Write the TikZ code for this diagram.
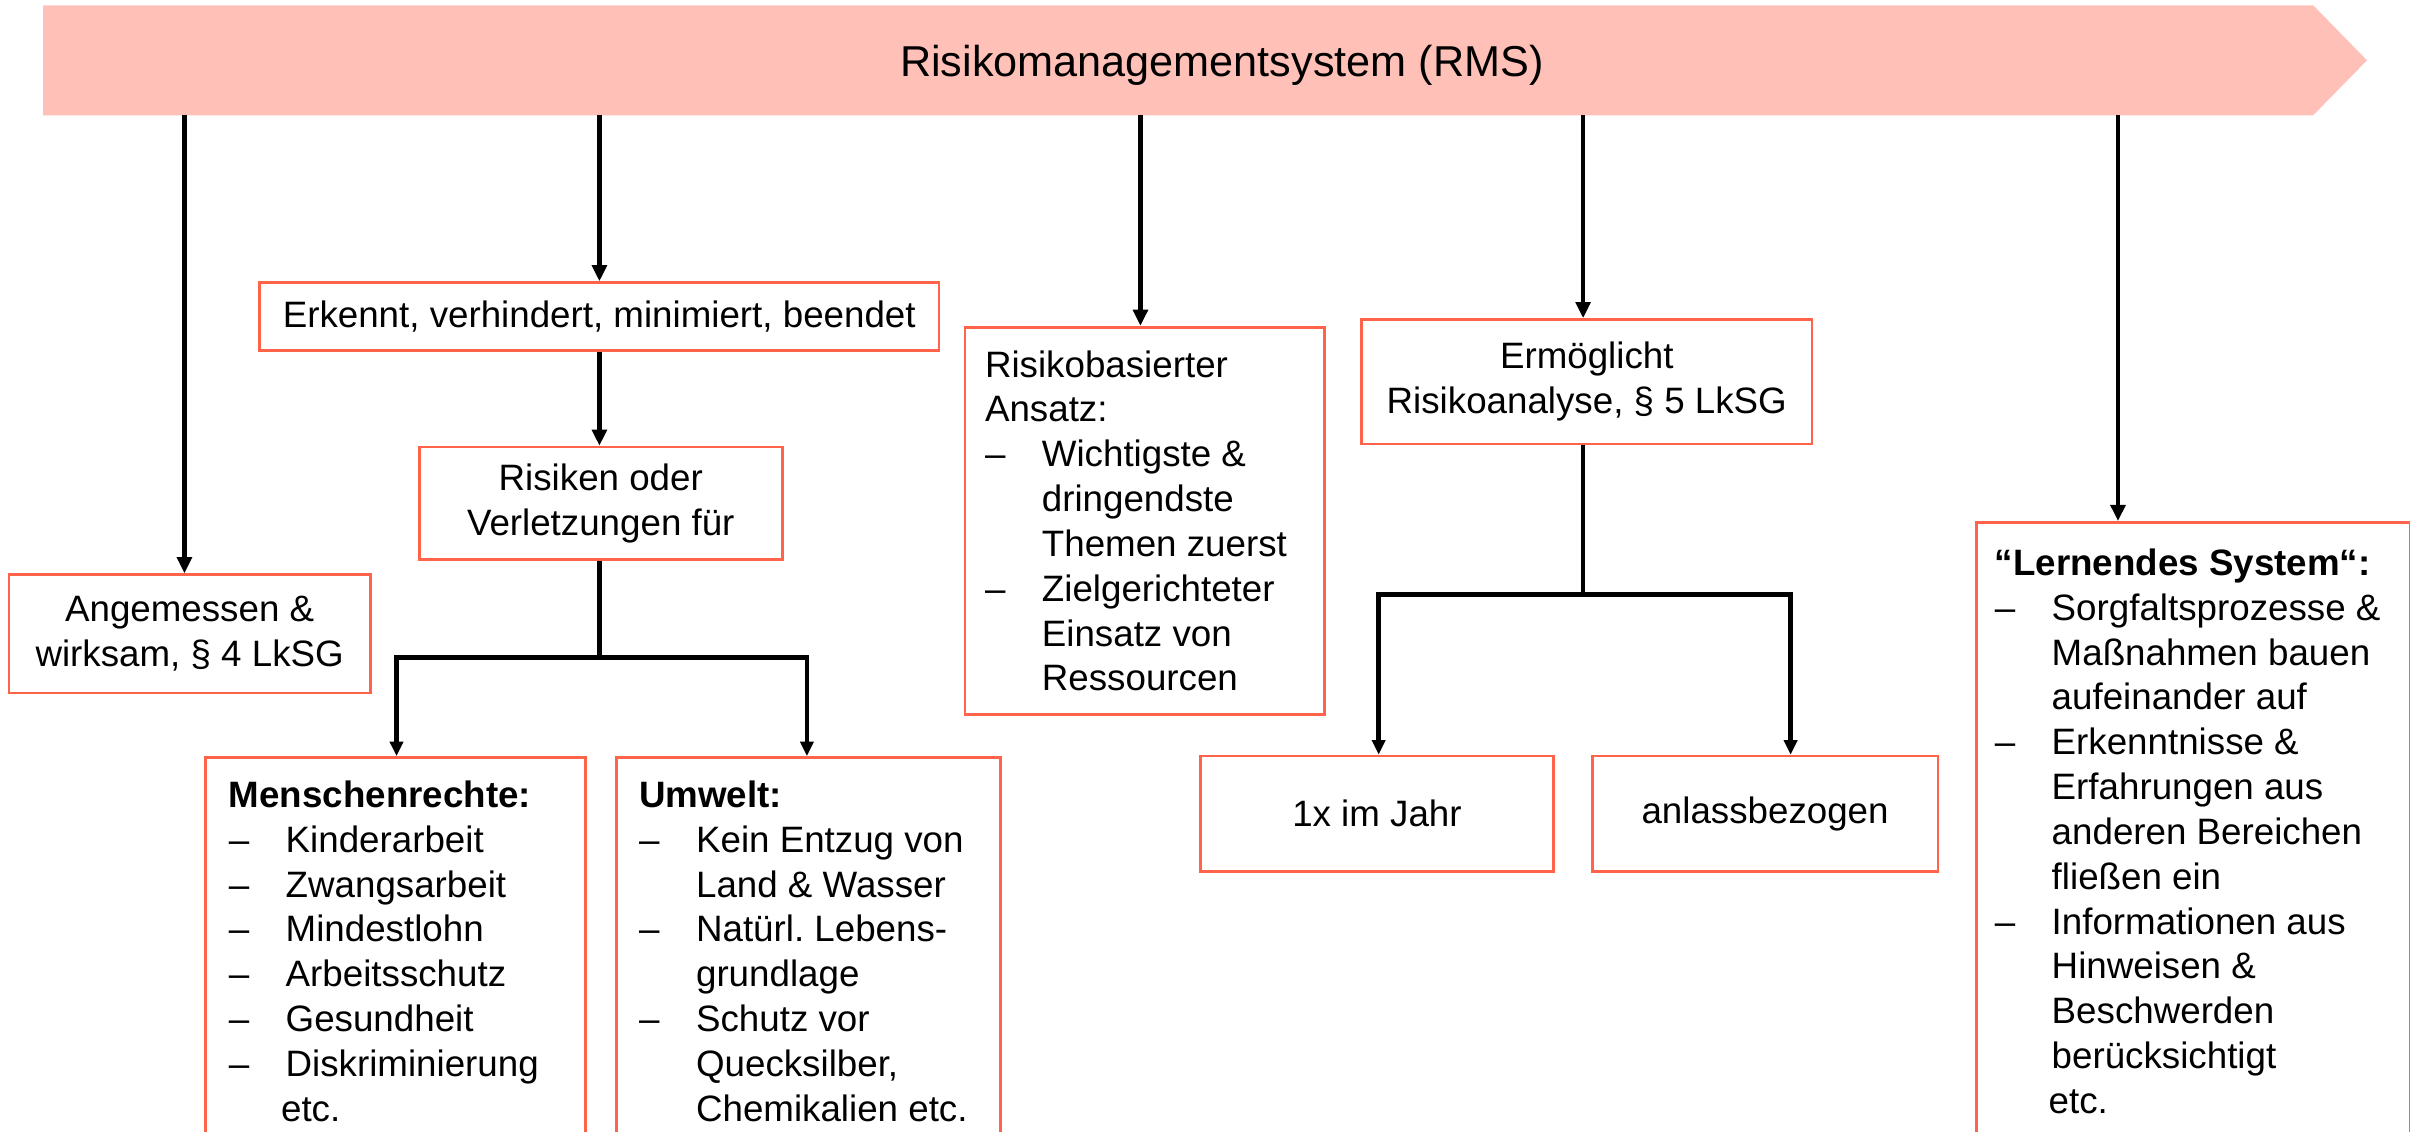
\documentclass[tikz,border=0pt]{standalone}
\usepackage{fontspec}
\setmainfont{Liberation Sans}
\usetikzlibrary{arrows.meta,calc}
\definecolor{bannerc}{RGB}{255,192,184}
\definecolor{boxc}{RGB}{255,100,75}
\newcommand{\itm}[1]{\makebox[0.74cm][l]{–}#1}
\newcommand{\cnt}[1]{\hspace*{0.74cm}#1}
\frenchspacing
\begin{document}
\begin{tikzpicture}[x=1cm,y=-1cm,
  box/.style={draw=boxc, line width=1pt, inner ysep=0pt,
    font=\fontsize{13.6pt}{16.6pt}\selectfont},
  cbox/.style={box, align=center, anchor=north west, inner xsep=2pt},
  lbox/.style={box, align=flush left, anchor=north west},
  conn/.style={line width=1.6pt, -{Triangle[length=0.21cm,width=0.19cm]}},
  bconn/.style={line width=1.8pt, -{Triangle[length=0.19cm,width=0.17cm]}},
  plain/.style={line width=1.6pt},
  bar/.style={line width=1.8pt},
]
\useasboundingbox (0,0) rectangle (31.36,14.72);

% banner
\fill[bannerc] (0.56,0.07) -- (30.10,0.07) -- (30.80,0.785) -- (30.10,1.50) -- (0.56,1.50) -- cycle;
\node[font=\fontsize{16pt}{19pt}\selectfont] (rms) at (15.9,0.85) {Risikomanagementsystem (RMS)};
\coordinate (t1) at (2.40,1.50);
\coordinate (t2) at (7.80,1.50);
\coordinate (t3) at (14.84,1.50);
\coordinate (t4) at (20.60,1.50);
\coordinate (t5) at (27.56,1.50);

% boxes
\node[cbox, minimum width=4.70cm, minimum height=1.54cm] (A) at (0.10,7.46)
  {Angemessen \&\\wirksam, § 4 LkSG};
\node[cbox, minimum width=8.84cm, minimum height=0.88cm] (E) at (3.36,3.66)
  {Erkennt, verhindert, minimiert, beendet};
\node[cbox, minimum width=4.72cm, minimum height=1.46cm] (R) at (5.44,5.80)
  {Risiken oder\\Verletzungen für};
\node[lbox, minimum width=4.94cm, minimum height=5.04cm, inner xsep=0.30cm, text width=4.34cm] (M) at (2.66,9.84)
  {\textbf{Menschenrechte:}\\
   \itm{Kinderarbeit}\\
   \itm{Zwangsarbeit}\\
   \itm{Mindestlohn}\\
   \itm{Arbeitsschutz}\\
   \itm{Gesundheit}\\
   \itm{Diskriminierung}\\
   \hspace*{0.68cm}etc.};
\node[lbox, minimum width=5.00cm, minimum height=5.04cm, inner xsep=0.30cm, text width=4.40cm] (U) at (8.00,9.84)
  {\textbf{Umwelt:}\\
   \itm{Kein Entzug von}\\
   \cnt{Land \& Wasser}\\
   \itm{Natürl. Lebens-}\\
   \cnt{grundlage}\\
   \itm{Schutz vor}\\
   \cnt{Quecksilber,}\\
   \cnt{Chemikalien etc.}};
\node[lbox, minimum width=4.68cm, minimum height=5.04cm, inner xsep=0.26cm, text width=4.16cm] (B) at (12.54,4.24)
  {Risikobasierter\\
   Ansatz:\\
   \itm{Wichtigste \&}\\
   \cnt{dringendste}\\
   \cnt{Themen zuerst}\\
   \itm{Zielgerichteter}\\
   \cnt{Einsatz von}\\
   \cnt{Ressourcen}};
\node[cbox, minimum width=5.86cm, minimum height=1.62cm] (Er) at (17.70,4.14)
  {Ermöglicht\\Risikoanalyse, § 5 LkSG};
\node[cbox, minimum width=4.60cm, minimum height=1.50cm] (J) at (15.60,9.82) {1x im Jahr};
\node[cbox, minimum width=4.50cm, minimum height=1.50cm] (An) at (20.70,9.82) {anlassbezogen};
\node[lbox, minimum width=5.64cm, minimum height=8.04cm, inner xsep=0.24cm, text width=5.16cm] (L) at (25.70,6.78)
  {\textbf{“Lernendes System“:}\\
   \itm{Sorgfaltsprozesse \&}\\
   \cnt{Maßnahmen bauen}\\
   \cnt{aufeinander auf}\\
   \itm{Erkenntnisse \&}\\
   \cnt{Erfahrungen aus}\\
   \cnt{anderen Bereichen}\\
   \cnt{fließen ein}\\
   \itm{Informationen aus}\\
   \cnt{Hinweisen \&}\\
   \cnt{Beschwerden}\\
   \cnt{berücksichtigt}\\
   \hspace*{0.70cm}etc.};

% connectors from banner
\draw[conn] (t1) -- (t1 |- A.north);
\draw[conn] (t2) -- (t2 |- E.north);
\draw[conn] (t3) -- (t3 |- B.north);
\draw[conn] (t4) -- (t4 |- Er.north);
\draw[conn] (t5) -- (t5 |- L.north);

% Erkennt -> Risiken
\draw[conn] (E.south -| t2) -- (R.north -| t2);

% branch 1
\coordinate (j1) at (7.80,8.56);
\coordinate (j1l) at (5.16,8.56);
\coordinate (j1r) at (10.50,8.56);
\draw[plain] (R.south -| j1) -- (j1);
\draw[bar] (j1) -- (j1l);
\draw[bar] (j1) -- (j1r);
\draw[bconn] ([yshift=0.9pt]j1l) -- (j1l |- M.north);
\draw[bconn] ([yshift=0.9pt]j1r) -- (j1r |- U.north);

% branch 2
\coordinate (j2) at (20.60,7.74);
\coordinate (j2l) at (17.94,7.74);
\coordinate (j2r) at (23.30,7.74);
\draw[plain] (Er.south -| j2) -- (j2);
\draw[bar] (j2) -- (j2l);
\draw[bar] (j2) -- (j2r);
\draw[bconn] ([yshift=0.9pt]j2l) -- (j2l |- J.north);
\draw[bconn] ([yshift=0.9pt]j2r) -- (j2r |- An.north);
\end{tikzpicture}
\end{document}
